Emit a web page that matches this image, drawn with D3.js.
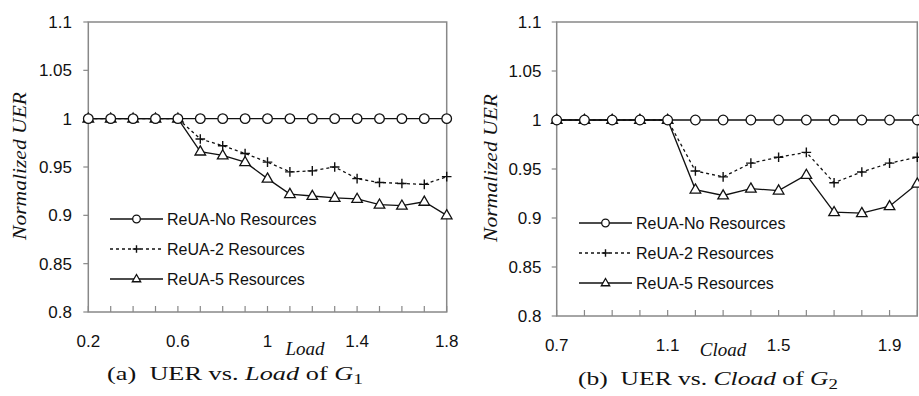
<!DOCTYPE html>
<html>
<head>
<meta charset="utf-8">
<script src="https://cdn.jsdelivr.net/npm/d3@7"></script>
<style>
  body { margin: 0; background: #fff; }
  svg { display: block; }
  .tick-label { font-family: "Liberation Sans", Arial, sans-serif; font-size: 17px; fill: #111; }
  .legend-label { font-family: "Liberation Sans", Arial, sans-serif; font-size: 16px; fill: #111; }
  .serif { font-family: "Liberation Serif", "DejaVu Serif", serif; fill: #111; }
</style>
</head>
<body>
<div id="chart"></div>
<script>
var svgWidth = 919;
var svgHeight = 396;

// Panel (a): Load of G1
var loadX = [0.2, 0.3, 0.4, 0.5, 0.6, 0.7, 0.8, 0.9, 1.0, 1.1, 1.2, 1.3, 1.4, 1.5, 1.6, 1.7, 1.8];
var loadNoRes = [1, 1, 1, 1, 1, 1, 1, 1, 1, 1, 1, 1, 1, 1, 1, 1, 1];
var load2Res = [1, 1, 1, 1, 1, 0.979, 0.972, 0.964, 0.955, 0.945, 0.946, 0.950, 0.938, 0.934, 0.933, 0.932, 0.940];
var load5Res = [1, 1, 1, 1, 1, 0.966, 0.962, 0.955, 0.938, 0.922, 0.920, 0.918, 0.917, 0.911, 0.910, 0.914, 0.900];
var loadTicks = [0.2, 0.6, 1, 1.4, 1.8];

// Panel (b): Cload of G2
var cloadX = [0.7, 0.8, 0.9, 1.0, 1.1, 1.2, 1.3, 1.4, 1.5, 1.6, 1.7, 1.8, 1.9, 2.0];
var cloadNoRes = [1, 1, 1, 1, 1, 1, 1, 1, 1, 1, 1, 1, 1, 1];
var cload2Res = [1, 1, 1, 1, 1, 0.948, 0.942, 0.956, 0.962, 0.967, 0.936, 0.947, 0.956, 0.962];
var cload5Res = [1, 1, 1, 1, 1, 0.929, 0.923, 0.930, 0.928, 0.944, 0.906, 0.905, 0.912, 0.935];
var cloadTicks = [0.7, 1.1, 1.5, 1.9];

var yTicks = [0.8, 0.85, 0.9, 0.95, 1, 1.05, 1.1];
var seriesNames = ["ReUA-No Resources", "ReUA-2 Resources", "ReUA-5 Resources"];
var seriesMarkers = ["circle", "plus", "triangle"];
var seriesDash = [null, "3,3", null];

var svg = d3.select("#chart").append("svg")
  .attr("width", svgWidth)
  .attr("height", svgHeight);

var panels = [
  {
    xs: loadX, series: [loadNoRes, load2Res, load5Res], xTicks: loadTicks,
    xDomain: [0.2, 1.8], left: 88.3, right: 446.7, top: 22, bottom: 312,
    yLabelX: 72, titleX: 26,
    xLabel: "Load", xLabelX: 305, xLabelY: 355,
    legendX: 110, legendY: 219,
    caption: ["(a)  UER vs. ", "Load", " of ", "G", "1"], captionX: 235, captionY: 380, captionW: 256
  },
  {
    xs: cloadX, series: [cloadNoRes, cload2Res, cload5Res], xTicks: cloadTicks,
    xDomain: [0.7, 2.0], left: 556.7, right: 917.3, top: 22, bottom: 316,
    yLabelX: 541.5, titleX: 497,
    xLabel: "Cload", xLabelX: 723, xLabelY: 356,
    legendX: 579, legendY: 223,
    caption: ["(b)  UER vs. ", "Cload", " of ", "G", "2"], captionX: 708, captionY: 385, captionW: 260
  }
];

function drawMarker(g, type, x, y, size) {
  if (type === "circle") {
    g.append("circle").attr("cx", x).attr("cy", y).attr("r", size)
      .attr("fill", "#fff").attr("stroke", "#111").attr("stroke-width", 1.3);
  } else if (type === "plus") {
    g.append("path")
      .attr("d", `M${x - size},${y}H${x + size}M${x},${y - size}V${y + size}`)
      .attr("stroke", "#111").attr("stroke-width", 1.4).attr("fill", "none");
  } else {
    var h = size * 1.9;
    g.append("path")
      .attr("d", `M${x},${y - h * 0.62}L${x + size * 1.1},${y + h * 0.38}L${x - size * 1.1},${y + h * 0.38}Z`)
      .attr("fill", "#fff").attr("stroke", "#111").attr("stroke-width", 1.3);
  }
}

// stretch a text horizontally to a target width (wide TeX font look)
function fitWidth(sel, cx, target) {
  var w = sel.node().getBBox().width;
  var sx = target / w;
  sel.attr("transform", `translate(${cx},0) scale(${sx},1) translate(${-cx},0)`);
}

panels.forEach(function(p) {
  var x = d3.scaleLinear().domain(p.xDomain).range([p.left, p.right]);
  var y = d3.scaleLinear().domain([0.8, 1.1]).range([p.bottom, p.top]);
  var g = svg.append("g");

  // frame
  g.append("rect")
    .attr("x", p.left).attr("y", p.top)
    .attr("width", p.right - p.left).attr("height", p.bottom - p.top)
    .attr("fill", "none").attr("stroke", "#888").attr("stroke-width", 1.5);

  // x minor ticks at each data point (inside)
  g.selectAll(".xt").data(p.xs).enter().append("line")
    .attr("x1", d => x(d)).attr("x2", d => x(d))
    .attr("y1", p.bottom).attr("y2", p.bottom - 6)
    .attr("stroke", "#888").attr("stroke-width", 1.2);

  // y ticks (outside, short)
  g.selectAll(".yt").data(yTicks).enter().append("line")
    .attr("x1", p.left - 5).attr("x2", p.left)
    .attr("y1", d => y(d)).attr("y2", d => y(d))
    .attr("stroke", "#888").attr("stroke-width", 1.2);

  // tick labels
  g.selectAll(".yl").data(yTicks).enter().append("text")
    .attr("class", "tick-label")
    .attr("x", p.yLabelX).attr("y", d => y(d) + 6)
    .attr("text-anchor", "end")
    .text(d => d3.format("")(d));

  g.selectAll(".xl").data(p.xTicks).enter().append("text")
    .attr("class", "tick-label")
    .attr("x", d => x(d)).attr("y", p.bottom + 35)
    .attr("text-anchor", "middle")
    .text(d => d);

  // axis titles
  g.append("text").attr("class", "serif")
    .attr("transform", `translate(${p.titleX}, ${(p.top + p.bottom) / 2 - 1}) rotate(-90)`)
    .attr("text-anchor", "middle")
    .attr("font-size", 19).attr("font-style", "italic")
    .attr("textLength", 148).attr("lengthAdjust", "spacingAndGlyphs")
    .text("Normalized UER");

  g.append("text").attr("class", "serif")
    .attr("x", p.xLabelX).attr("y", p.xLabelY)
    .attr("text-anchor", "middle")
    .attr("font-size", 19).attr("font-style", "italic")
    .text(p.xLabel);

  // caption
  var cap = g.append("text").attr("class", "serif")
    .attr("x", p.captionX).attr("y", p.captionY)
    .attr("text-anchor", "middle").attr("font-size", 19)
    .attr("xml:space", "preserve");
  cap.append("tspan").text(p.caption[0]);
  cap.append("tspan").attr("font-style", "italic").text(p.caption[1]);
  cap.append("tspan").text(p.caption[2]);
  cap.append("tspan").attr("font-style", "italic").text(p.caption[3]);
  cap.append("tspan").attr("font-size", 14).attr("dy", 4).text(p.caption[4]);
  fitWidth(cap, p.captionX, p.captionW);

  // series lines and markers
  p.series.forEach(function(vals, i) {
    var pts = p.xs.map((d, k) => [d, vals[k]]);
    var line = d3.line().x(d => x(d[0])).y(d => y(d[1]));
    g.append("path").datum(pts)
      .attr("d", line)
      .attr("fill", "none").attr("stroke", "#111").attr("stroke-width", 1.3)
      .attr("stroke-dasharray", seriesDash[i]);
  });
  // plus first, then triangles, circles on top along 1.0
  [1, 2, 0].forEach(function(i) {
    var vals = p.series[i];
    p.xs.forEach(function(d, k) {
      drawMarker(g, seriesMarkers[i], x(d), y(vals[k]), 4.8);
    });
  });

  // legend
  seriesNames.forEach(function(name, i) {
    var ly = p.legendY + i * 30;
    g.append("line")
      .attr("x1", p.legendX).attr("x2", p.legendX + 53)
      .attr("y1", ly).attr("y2", ly)
      .attr("stroke", "#111").attr("stroke-width", 1.3)
      .attr("stroke-dasharray", seriesDash[i]);
    drawMarker(g, seriesMarkers[i], p.legendX + 26.5, ly, 3.8);
    g.append("text").attr("class", "legend-label")
      .attr("x", p.legendX + 57).attr("y", ly + 6)
      .text(name);
  });
});
</script>
</body>
</html>
